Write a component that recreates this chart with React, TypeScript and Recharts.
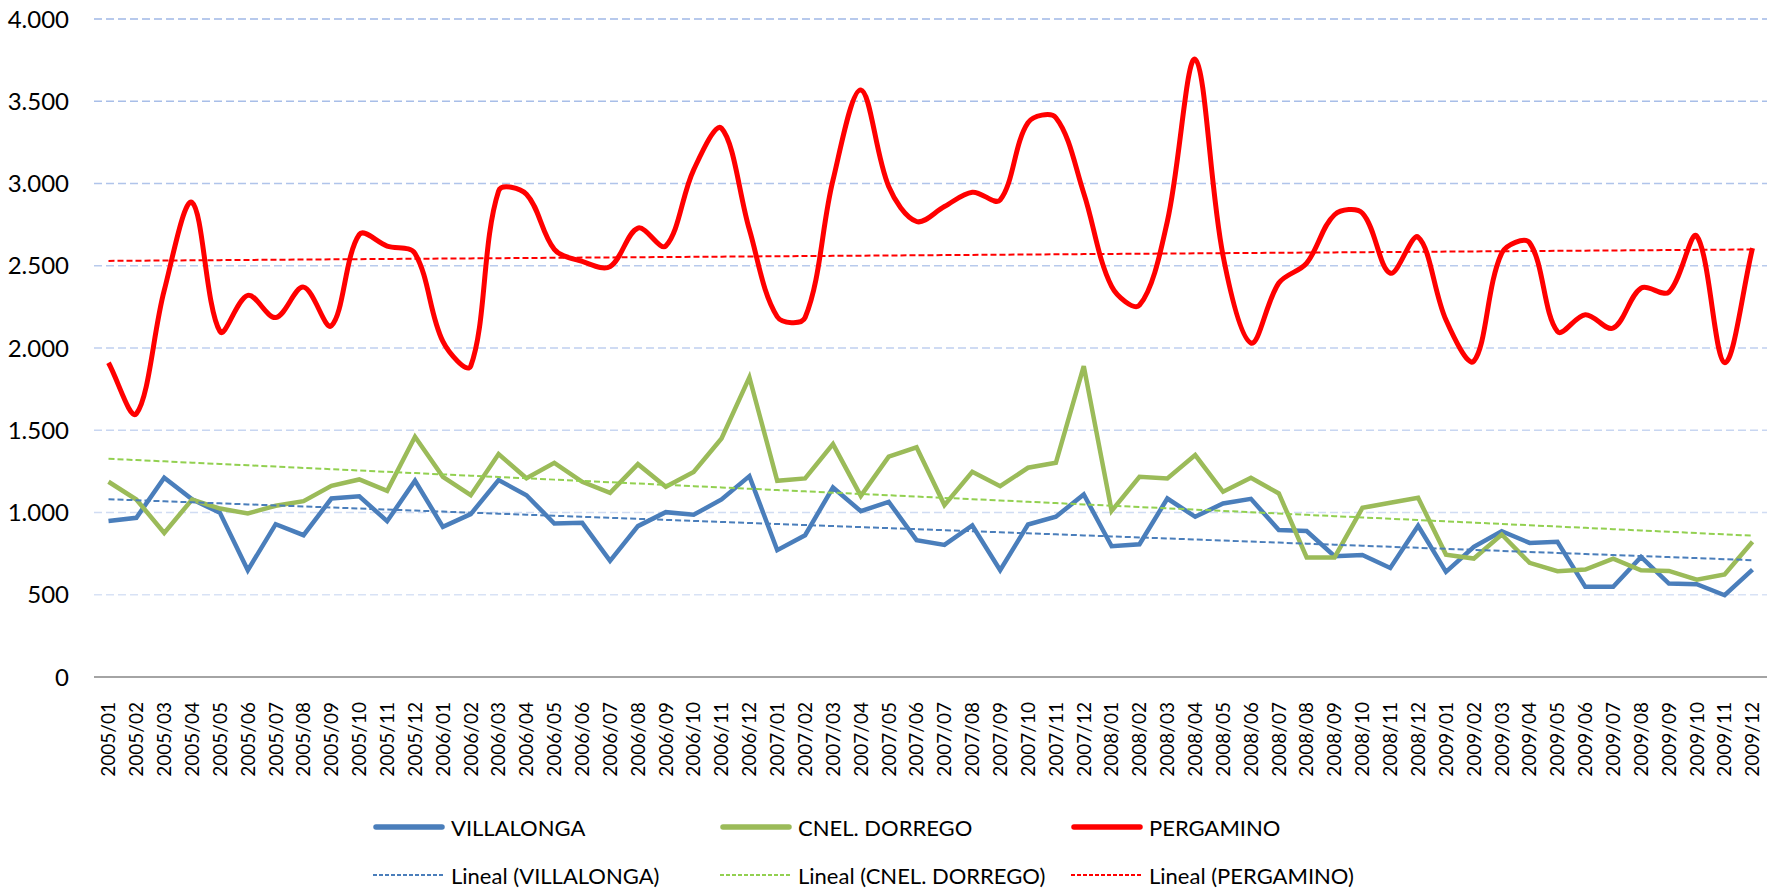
import React from "react";
import { LineChart, Line, XAxis, YAxis, CartesianGrid } from "recharts";

// meses 2005/01 .. 2009/12
const months = [
	"2005/01", "2005/02", "2005/03", "2005/04", "2005/05", "2005/06", "2005/07", "2005/08", "2005/09", "2005/10", "2005/11", "2005/12",
	"2006/01", "2006/02", "2006/03", "2006/04", "2006/05", "2006/06", "2006/07", "2006/08", "2006/09", "2006/10", "2006/11", "2006/12",
	"2007/01", "2007/02", "2007/03", "2007/04", "2007/05", "2007/06", "2007/07", "2007/08", "2007/09", "2007/10", "2007/11", "2007/12",
	"2008/01", "2008/02", "2008/03", "2008/04", "2008/05", "2008/06", "2008/07", "2008/08", "2008/09", "2008/10", "2008/11", "2008/12",
	"2009/01", "2009/02", "2009/03", "2009/04", "2009/05", "2009/06", "2009/07", "2009/08", "2009/09", "2009/10", "2009/11", "2009/12",
];

const villalonga = [
	949, 968, 1211, 1080, 998, 649, 929, 862, 1085, 1099, 947, 1193,
	913, 990, 1197, 1105, 933, 937, 706, 917, 1002, 986, 1079, 1221,
	771, 862, 1152, 1008, 1065, 832, 803, 921, 649, 927, 974, 1110,
	795, 807, 1085, 974, 1055, 1083, 893, 887, 734, 742, 663, 919,
	639, 791, 886, 815, 822, 548, 548, 730, 568, 564, 497, 653,
];

const cnelDorrego = [
	1187, 1079, 876, 1079, 1024, 994, 1041, 1069, 1162, 1201, 1132, 1460,
	1217, 1105, 1355, 1208, 1302, 1187, 1120, 1294, 1156, 1247, 1450, 1822,
	1193, 1207, 1416, 1101, 1339, 1396, 1045, 1247, 1160, 1272, 1302, 1890,
	1010, 1217, 1207, 1349, 1126, 1211, 1116, 727, 727, 1028, 1059, 1089,
	744, 720, 866, 694, 643, 653, 720, 649, 645, 592, 623, 822,
];

const pergamino = [
	1910, 1600, 2350, 2885, 2100, 2320, 2185, 2370, 2135, 2690, 2620, 2575,
	2040, 1890, 2955, 2935, 2600, 2526, 2495, 2729, 2620, 3083, 3336, 2720,
	2190, 2185, 3020, 3569, 2982, 2769, 2860, 2947, 2900, 3370, 3400, 2941,
	2374, 2260, 2770, 3755, 2560, 2030, 2395, 2516, 2810, 2820, 2455, 2674,
	2170, 1920, 2577, 2640, 2100, 2202, 2121, 2364, 2340, 2680, 1911, 2607,
];

const yTicks = [0, 500, 1000, 1500, 2000, 2500, 3000, 3500, 4000];

const BLUE = "#4A7EBB";
const GREEN = "#9BBB59";
const RED = "#FF0000";
const FONT = "Lato, 'Open Sans', sans-serif";

// tendencia lineal (minimos cuadrados), como la "Lineal" de Excel
function linearTrend(values: number[]) {
	const n = values.length;
	const mx = (n - 1) / 2;
	const my = values.reduce((a, b) => a + b, 0) / n;
	let num = 0;
	let den = 0;
	values.forEach((v, i) => {
		num += (i - mx) * (v - my);
		den += (i - mx) * (i - mx);
	});
	const slope = num / den;
	return values.map((_, i) => my + slope * (i - mx));
}

const trendV = linearTrend(villalonga);
const trendC = linearTrend(cnelDorrego);
const trendP = linearTrend(pergamino);

const data = months.map((m, i) => ({
	month: m,
	villalonga: villalonga[i],
	cnelDorrego: cnelDorrego[i],
	pergamino: pergamino[i],
	trendV: trendV[i],
	trendC: trendC[i],
	trendP: trendP[i],
}));

// curva suavizada parecida a la de Excel: tangente repartida segun el largo de cada tramo
const smoothCurve: any = (context: any) => {
	let pts: number[][] = [];
	const dist = (a: number[], b: number[]) => Math.hypot(b[0] - a[0], b[1] - a[1]);
	return {
		areaStart() {},
		areaEnd() {},
		lineStart() {
			pts = [];
		},
		point(x: number, y: number) {
			pts.push([+x, +y]);
		},
		lineEnd() {
			if (!pts.length) return;
			const n = pts.length;
			// controles de entrada y salida de cada punto
			const cin: number[][] = [];
			const cout: number[][] = [];
			for (let i = 0; i < n; i++) {
				const p0 = pts[i - 1] || pts[i];
				const p1 = pts[i];
				const p2 = pts[i + 1] || pts[i];
				const d01 = dist(p0, p1);
				const d12 = dist(p1, p2);
				const s = d01 + d12 || 1;
				const tx = p2[0] - p0[0];
				const ty = p2[1] - p0[1];
				const k = 0.34;
				cin[i] = [p1[0] - (tx * k * d01) / s, p1[1] - (ty * k * d01) / s];
				cout[i] = [p1[0] + (tx * k * d12) / s, p1[1] + (ty * k * d12) / s];
			}
			context.moveTo(pts[0][0], pts[0][1]);
			for (let i = 0; i < n - 1; i++) {
				context.bezierCurveTo(cout[i][0], cout[i][1], cin[i + 1][0], cin[i + 1][1], pts[i + 1][0], pts[i + 1][1]);
			}
		},
	};
};

const fmt = (v: number) => String(v).replace(/\B(?=(\d{3})+(?!\d))/g, ".");

const MonthTick = ({ x, y, payload }: any) => (
	<text
		x={x}
		y={y}
		transform={`rotate(-90, ${x}, ${y})`}
		textAnchor="end"
		dy="0.36em"
		fontSize={19}
		fontFamily={FONT}
		fill="#000"
	>
		{payload.value}
	</text>
);

// lineas de grilla: azul mas intenso arriba, mas claro abajo
const gridLine = (props: any) => {
	if (props.y1 > 670) return <g />;
	const t = Math.min(1, Math.max(0, (props.y1 - 19) / 576));
	const r = Math.round(160 + (216 - 160) * t);
	const g = Math.round(184 + (226 - 184) * t);
	const b = Math.round(230 + (245 - 230) * t);
	return (
		<line
			x1={props.x1}
			x2={props.x2}
			y1={props.y1}
			y2={props.y2}
			stroke={`rgb(${r},${g},${b})`}
			strokeWidth={1.4}
			strokeDasharray="8 4"
		/>
	);
};

const legendItems = [
	{ label: "VILLALONGA", color: BLUE, dashed: false },
	{ label: "CNEL. DORREGO", color: GREEN, dashed: false },
	{ label: "PERGAMINO", color: RED, dashed: false },
	{ label: "Lineal (VILLALONGA)", color: BLUE, dashed: true },
	{ label: "Lineal (CNEL. DORREGO)", color: "#92D050", dashed: true },
	{ label: "Lineal (PERGAMINO)", color: RED, dashed: true },
];
const legendCols = [373, 720, 1071];
const legendRows = [827, 875];

const ChartLegend = () => (
	<>
		{legendItems.map((item, i) => (
			<div
				key={item.label}
				style={{
					position: "absolute",
					left: legendCols[i % 3],
					top: legendRows[Math.floor(i / 3)] - 16,
					height: 32,
					display: "flex",
					alignItems: "center",
					whiteSpace: "nowrap",
				}}
			>
				<svg width={72} height={10}>
					<line
						x1={item.dashed ? 0 : 3}
						x2={item.dashed ? 72 : 69}
						y1={5}
						y2={5}
						stroke={item.color}
						strokeWidth={item.dashed ? 2 : 5.5}
						strokeLinecap={item.dashed ? "butt" : "round"}
						strokeDasharray={item.dashed ? "4 2" : undefined}
					/>
				</svg>
				<span style={{ marginLeft: 6, fontSize: 22, fontFamily: FONT, color: "#000" }}>{item.label}</span>
			</div>
		))}
	</>
);

export default function App() {
	return (
		<div style={{ position: "absolute", left: 0, top: 0, width: 1777, height: 890, background: "#fff" }}>
			<LineChart width={1777} height={890} data={data} margin={{ top: 19, right: 10, bottom: 0, left: 0 }}>
				<CartesianGrid vertical={false} horizontal={gridLine} />
				<XAxis
					dataKey="month"
					interval={0}
					height={213}
					padding={{ left: 14.5, right: 14.5 }}
					tick={<MonthTick />}
					tickLine={false}
					tickSize={0}
					tickMargin={25}
					axisLine={{ stroke: "#868686", strokeWidth: 1.6 }}
				/>
				<YAxis
					width={94}
					domain={[0, 4000]}
					ticks={yTicks}
					tickFormatter={fmt}
					axisLine={false}
					tickLine={false}
					tickSize={0}
					tickMargin={25}
					tick={{ fontSize: 24, fontFamily: FONT, fill: "#000" }}
				/>
				<Line dataKey="villalonga" stroke={BLUE} strokeWidth={4.5} dot={false} type="linear" isAnimationActive={false} />
				<Line dataKey="cnelDorrego" stroke={GREEN} strokeWidth={4.5} dot={false} type="linear" isAnimationActive={false} />
				<Line dataKey="pergamino" stroke={RED} strokeWidth={5} dot={false} type={smoothCurve} isAnimationActive={false} />
				<Line dataKey="trendV" stroke={BLUE} strokeWidth={2} strokeDasharray="6 3" dot={false} type="linear" isAnimationActive={false} />
				<Line dataKey="trendC" stroke="#92D050" strokeWidth={2} strokeDasharray="6 3" dot={false} type="linear" isAnimationActive={false} />
				<Line dataKey="trendP" stroke={RED} strokeWidth={2} strokeDasharray="6 3" dot={false} type="linear" isAnimationActive={false} />
			</LineChart>
			<ChartLegend />
		</div>
	);
}
